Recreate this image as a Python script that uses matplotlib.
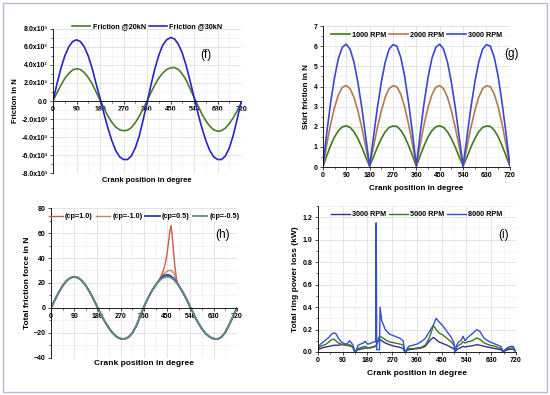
import matplotlib
matplotlib.use("Agg")
import matplotlib.pyplot as plt
from matplotlib.patches import Rectangle
from matplotlib.ticker import AutoMinorLocator, FuncFormatter
import numpy as np

plt.rcParams['font.family'] = ['Liberation Sans', 'DejaVu Sans']
plt.rcParams['font.weight'] = 'bold'

# ---- (f) friction vs crank angle
f_angle = list(range(0, 721, 15))
f_20kN = [0.0, 0.9, 1.75, 2.5, 3.05, 3.45, 3.58, 3.5, 3.15, 2.6, 1.9, 1.0, 0.1,
          -0.8, -1.65, -2.35, -2.9, -3.2, -3.3, -3.25, -2.95, -2.4, -1.7, -0.85, 0.0,
          0.95, 1.8, 2.55, 3.1, 3.5, 3.68, 3.72, 3.5, 3.0, 2.3, 1.35, 0.4,
          -0.55, -1.45, -2.2, -2.8, -3.2, -3.35, -3.3, -3.0, -2.5, -1.85, -1.1, -0.3]
f_30kN = [0.0, 1.9, 3.6, 5.0, 6.0, 6.6, 6.8, 6.6, 6.0, 5.0, 3.6, 1.9, 0.3,
          -1.4, -3.0, -4.4, -5.5, -6.2, -6.5, -6.5, -6.1, -5.2, -3.9, -2.1, -0.2,
          1.8, 3.6, 5.1, 6.2, 6.8, 7.05, 6.9, 6.3, 5.3, 3.9, 2.2, 0.4,
          -1.4, -3.0, -4.4, -5.5, -6.2, -6.5, -6.5, -6.1, -5.2, -3.8, -2.0, -0.1]

# ---- (g) skirt friction
g_angle = list(range(0, 721, 15))
g_1000 = [0.0, 0.57, 1.07, 1.5, 1.81, 2.0, 2.05, 1.97, 1.75, 1.41, 0.99, 0.5, 0.05,
          0.5, 0.99, 1.41, 1.75, 1.97, 2.04, 2.02, 1.83, 1.51, 1.07, 0.57, 0.05,
          0.57, 1.07, 1.5, 1.81, 2.0, 2.05, 1.97, 1.75, 1.41, 0.99, 0.5, 0.05,
          0.5, 0.99, 1.41, 1.75, 1.97, 2.04, 2.02, 1.83, 1.51, 1.07, 0.57, 0.05]
g_2000 = [0.0, 1.13, 2.13, 2.96, 3.59, 3.96, 4.05, 3.89, 3.46, 2.79, 1.96, 1.0, 0.05,
          1.0, 1.96, 2.79, 3.46, 3.89, 4.04, 3.99, 3.62, 2.99, 2.13, 1.13, 0.05,
          1.13, 2.13, 2.96, 3.59, 3.96, 4.05, 3.89, 3.46, 2.79, 1.96, 1.0, 0.05,
          1.0, 1.96, 2.79, 3.46, 3.89, 4.04, 3.99, 3.62, 2.99, 2.13, 1.13, 0.08]
g_3000 = [0.0, 1.7, 3.2, 4.45, 5.4, 5.95, 6.1, 5.85, 5.2, 4.2, 2.95, 1.5, 0.05,
          1.5, 2.95, 4.2, 5.2, 5.85, 6.08, 6.0, 5.45, 4.5, 3.2, 1.7, 0.05,
          1.7, 3.2, 4.45, 5.4, 5.95, 6.1, 5.85, 5.2, 4.2, 2.95, 1.5, 0.05,
          1.5, 2.95, 4.2, 5.2, 5.85, 6.08, 6.0, 5.45, 4.5, 3.2, 1.7, 0.1]

# ---- (h) total friction force, curves only differ around 410-505 deg
h_angle_a = list(range(0, 406, 15))
h_base_a = [0.0, 6.5, 12.5, 17.7, 21.7, 24.1, 25.0, 24.2, 21.8, 17.9, 12.8, 6.9, 0.6,
            -5.8, -11.4, -16.3, -20.3, -23.2, -24.6, -24.8, -23.4, -20.0, -14.5, -7.0, 1.0,
            7.6, 13.5, 18.2]
h_angle_peak = list(range(410, 506, 5))
h_peak_cp_p10 = [19.8, 21.3, 23.0, 25.0, 27.3, 30.0, 33.5, 38.0, 44.0, 52.0,
                 61.0, 66.0, 57.0, 44.0, 33.0, 25.0, 20.0, 17.9, 16.2, 14.5]
h_peak_cp_m10 = [19.6, 21.0, 22.5, 24.0, 25.4, 26.7, 27.8, 28.7, 29.4, 29.9,
                 30.1, 30.0, 29.4, 28.0, 25.5, 22.0, 19.5, 17.8, 16.2, 14.5]
h_peak_cp_p05 = [19.7, 21.0, 22.3, 23.5, 24.6, 25.4, 26.0, 26.4, 26.5, 26.4,
                 26.0, 25.4, 24.6, 23.6, 22.3, 20.9, 19.4, 17.8, 16.2, 14.5]
h_peak_cp_m05 = [19.6, 20.8, 21.8, 22.8, 23.6, 24.2, 24.6, 24.9, 25.0, 24.9,
                 24.6, 24.1, 23.5, 22.7, 21.7, 20.5, 19.2, 17.8, 16.2, 14.5]
h_angle_b = list(range(510, 721, 15))
h_base_b = [12.8, 7.0, 0.5, -6.0, -11.8, -16.8, -20.6, -23.2, -24.6, -24.8,
            -23.3, -19.5, -13.5, -6.8, 0.0]

# ---- (i) total ring power loss
i_angle = [0, 10, 20, 30, 40, 50, 58, 65, 75, 85,
           95, 105, 115, 122, 128, 134, 140, 146, 155, 165,
           172, 180, 190, 198, 205, 210, 212, 214, 220, 224,
           226, 232, 245, 260, 280, 300, 310, 316, 322, 330,
           345, 360, 375, 390, 400, 410, 420, 430, 440, 455,
           470, 485, 495, 499, 504, 512, 520, 528, 535, 545,
           560, 578, 590, 605, 625, 645, 665, 675, 680, 690,
           700, 710, 720]
i_3000 = [0.02, 0.03, 0.04, 0.045, 0.05, 0.055, 0.06, 0.06, 0.06, 0.065,
          0.065, 0.06, 0.055, 0.05, 0.035, 0.0, 0.01, 0.02, 0.025, 0.03,
          0.035, 0.035, 0.04, 0.045, 0.05, 0.05, 0.06, 0.07, 0.1, 0.11,
          0.11, 0.1, 0.08, 0.065, 0.05, 0.04, 0.03, 0.0, 0.01, 0.02,
          0.025, 0.03, 0.035, 0.05, 0.08, 0.11, 0.13, 0.11, 0.09, 0.075,
          0.06, 0.04, 0.03, 0.0, 0.02, 0.03, 0.04, 0.05, 0.045, 0.05,
          0.055, 0.065, 0.06, 0.05, 0.04, 0.03, 0.02, 0.0, 0.01, 0.02,
          0.025, 0.025, 0.0]
i_5000 = [0.03, 0.05, 0.06, 0.07, 0.09, 0.11, 0.115, 0.1, 0.08, 0.07,
          0.065, 0.06, 0.065, 0.055, 0.04, 0.0, 0.01, 0.03, 0.04, 0.045,
          0.05, 0.04, 0.035, 0.04, 0.045, 0.05, 0.06, 0.08, 0.12, 0.14,
          0.14, 0.13, 0.11, 0.09, 0.08, 0.07, 0.06, 0.0, 0.01, 0.03,
          0.03, 0.035, 0.04, 0.06, 0.1, 0.16, 0.235, 0.2, 0.17, 0.15,
          0.12, 0.09, 0.06, 0.0, 0.04, 0.06, 0.07, 0.09, 0.08, 0.09,
          0.1, 0.125, 0.11, 0.08, 0.06, 0.05, 0.03, 0.0, 0.015, 0.03,
          0.035, 0.035, 0.0]
i_8000 = [0.045, 0.07, 0.09, 0.11, 0.13, 0.16, 0.17, 0.165, 0.12, 0.09,
          0.075, 0.07, 0.1, 0.08, 0.06, 0.0, 0.02, 0.06, 0.07, 0.08,
          0.095, 0.07, 0.075, 0.085, 0.09, 0.09, 1.15, 0.02, 0.02, 0.02,
          0.4, 0.28, 0.2, 0.16, 0.14, 0.12, 0.1, 0.0, 0.02, 0.05,
          0.06, 0.07, 0.09, 0.12, 0.16, 0.2, 0.24, 0.3, 0.27, 0.23,
          0.18, 0.13, 0.08, 0.0, 0.06, 0.09, 0.1, 0.14, 0.1, 0.13,
          0.16, 0.2, 0.18, 0.12, 0.09, 0.07, 0.05, 0.0, 0.02, 0.04,
          0.05, 0.05, 0.0]

x_ticks = [0, 90, 180, 270, 360, 450, 540, 630, 720]
XLABEL = "Crank position in degree"

fig = plt.figure(figsize=(5.5, 3.95), dpi=100)
fig.patches.append(Rectangle((0.006, 0.008), 0.988, 0.984, transform=fig.transFigure,
                             fill=False, edgecolor='#b9b9d6', lw=1.0))


def style(ax):
    ax.set_xlim(0, 720)
    ax.set_xticks(x_ticks)
    ax.xaxis.set_minor_locator(AutoMinorLocator(2))
    ax.yaxis.set_minor_locator(AutoMinorLocator(2))
    ax.grid(True, which='major', color='#d9d9d9', lw=0.5)
    ax.grid(True, which='minor', color='#ececec', lw=0.4)
    ax.set_axisbelow(True)
    for s in ['top', 'right']:
        ax.spines[s].set_visible(False)
    for s in ['left', 'bottom']:
        ax.spines[s].set_linewidth(0.6)
    ax.tick_params(which='major', direction='out', length=2.2, width=0.5, labelsize=5, pad=1.5)
    ax.tick_params(which='minor', direction='out', length=1.2, width=0.4)
    for lab in ax.get_xticklabels() + ax.get_yticklabels():
        lab.set_fontweight('bold')


def legend(ax, y, hl=2.6):
    ax.legend(loc='upper center', bbox_to_anchor=(0.5, y), ncol=4, frameon=False,
              handlelength=hl, handletextpad=0.3, columnspacing=0.4,
              borderaxespad=0, prop={'weight': 'bold', 'size': 5.2})


# (f)
ax = fig.add_axes([0.0964, 0.562, 0.342, 0.3646])
ax.plot(f_angle, f_20kN, color='#4b7d28', lw=1.2, label='Friction @20kN')
ax.plot(f_angle, f_30kN, color='#2b22c8', lw=1.2, label='Friction @30kN')
ax.set_ylim(-8, 8)
ax.set_yticks(np.arange(-8, 9, 2))
ax.yaxis.set_major_formatter(FuncFormatter(lambda v, p: '0.0' if v == 0 else f'{v:.1f}x10³'))
style(ax)
ax.spines['bottom'].set_position(('data', 0))
ax.set_ylabel('Friction in N', fontsize=5.5, fontweight='bold', labelpad=2)
ax.text(0.5, -0.05, XLABEL, transform=ax.transAxes, ha='center', va='center',
        fontsize=5.5, fontweight='bold')
ax.text(0.81, 0.82, '(f)', transform=ax.transAxes, fontsize=8.5, fontweight='normal',
        ha='center', va='center')
legend(ax, 1.06)

# (g)
ax = fig.add_axes([0.587, 0.577, 0.340, 0.357])
ax.plot(g_angle, g_1000, color='#3f7a1d', lw=1.2, label='1000 RPM')
ax.plot(g_angle, g_2000, color='#b27a52', lw=1.2, label='2000 RPM')
ax.plot(g_angle, g_3000, color='#3b47cf', lw=1.2, label='3000 RPM')
ax.set_ylim(0, 7)
ax.set_yticks(range(0, 8))
style(ax)
ax.set_ylabel('Skirt friction in N', fontsize=5.8, fontweight='bold', labelpad=3)
ax.set_xlabel(XLABEL, fontsize=5.8, fontweight='bold', labelpad=4)
ax.text(1.01, 0.8, '(g)', transform=ax.transAxes, fontsize=8.5, fontweight='normal',
        ha='center', va='center')
legend(ax, 0.98)

# (h)
ax = fig.add_axes([0.0927, 0.0937, 0.338, 0.3797])
h_angle = h_angle_a + h_angle_peak + h_angle_b
ax.plot(h_angle, h_base_a + h_peak_cp_p10 + h_base_b, color='#cf5a50', lw=1.0, label='(cp=1.0)')
ax.plot(h_angle, h_base_a + h_peak_cp_m10 + h_base_b, color='#b98a5c', lw=1.0, label='(cp=-1.0)')
ax.plot(h_angle, h_base_a + h_peak_cp_p05 + h_base_b, color='#3535b0', lw=1.3, label='(cp=0.5)')
ax.plot(h_angle, h_base_a + h_peak_cp_m05 + h_base_b, color='#5e8c7c', lw=1.3, label='(cp=-0.5)')
ax.set_ylim(-40, 80)
ax.set_yticks(range(-40, 81, 20))
style(ax)
ax.spines['bottom'].set_position(('data', 0))
ax.set_ylabel('Total friction force in N', fontsize=6, fontweight='bold', labelpad=2)
ax.text(0.5, -0.04, XLABEL, transform=ax.transAxes, ha='center', va='center',
        fontsize=6, fontweight='bold')
ax.text(0.925, 0.82, '(h)', transform=ax.transAxes, fontsize=8.5, fontweight='normal',
        ha='center', va='center')
legend(ax, 0.985, hl=2.0)

# (i)
ax = fig.add_axes([0.578, 0.1089, 0.36, 0.3696])
ax.plot(i_angle, i_3000, color='#3d2c8c', lw=1.0, label='3000 RPM')
ax.plot(i_angle, i_5000, color='#3b7a1a', lw=1.0, label='5000 RPM')
ax.plot(i_angle, i_8000, color='#3550d2', lw=1.0, label='8000 RPM')
ax.set_ylim(0, 1.3)
ax.set_yticks(np.arange(0, 1.21, 0.2))
ax.yaxis.set_major_formatter(FuncFormatter(lambda v, p: f'{v:.1f}'))
style(ax)
ax.set_ylabel('Total ring power loss (kW)', fontsize=6, fontweight='bold', labelpad=3)
ax.set_xlabel(XLABEL, fontsize=6, fontweight='bold', labelpad=4)
ax.text(0.94, 0.8, '(i)', transform=ax.transAxes, fontsize=8.5, fontweight='normal',
        ha='center', va='center')
legend(ax, 0.985)

fig.savefig('out.png', dpi=100)
